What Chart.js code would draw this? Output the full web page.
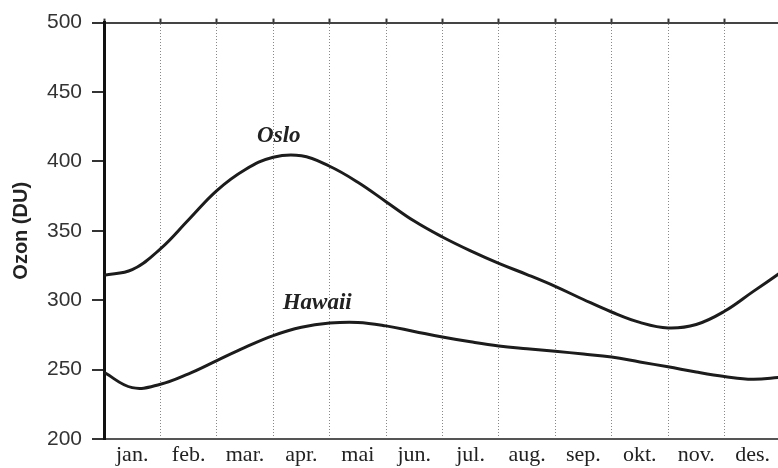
<!DOCTYPE html>
<html lang="no">
<head>
  <meta charset="UTF-8" />
  <title>Ozon - Oslo og Hawaii</title>
  <script src="https://cdn.jsdelivr.net/npm/chart.js"></script>
  <style>
    * { box-sizing: border-box; margin: 0; padding: 0; }
    body { background: white; }
    #ozonChart { display: block; }
  </style>
</head>
<body>

<canvas id="ozonChart" width="778" height="468"></canvas>

<script>
  const months = ['jan.', 'feb.', 'mar.', 'apr.', 'mai', 'jun.', 'jul.', 'aug.', 'sep.', 'okt.', 'nov.', 'des.'];
  const monthEdges = [0, 1, 2, 3, 4, 5, 6, 7, 8, 9, 10, 11, 12];
  const monthCenters = [0.5, 1.5, 2.5, 3.5, 4.5, 5.5, 6.5, 7.5, 8.5, 9.5, 10.5, 11.5];

  // measurements every half month, from start of January
  const samplePos = [0, 0.5, 1, 1.5, 2, 2.5, 3, 3.5, 4, 4.5, 5, 5.5, 6, 6.5, 7, 7.5, 8, 8.5, 9, 9.5, 10, 10.5, 11, 11.5, 12];
  const oslo = [318, 322, 337, 358, 379, 394, 403, 404, 396.5, 385, 371, 357, 345.5, 335.5, 326.5, 318.5, 310, 300.5, 291.5, 284, 280, 282.5, 292, 306, 320];
  const hawaii = [248, 237, 239.5, 247, 256.5, 266, 274.5, 280.5, 283.5, 284, 281.5, 277.5, 273.5, 270, 267, 265, 263.2, 261.2, 259, 255.5, 252, 248.2, 245, 243, 244.5];

  const yTicks = [200, 250, 300, 350, 400, 450, 500];

  const seriesLabels = [
    { text: 'Oslo', x: 3.1, y: 418 },
    { text: 'Hawaii', x: 3.78, y: 298 }
  ];

  function toPoints(values) {
    return values.map((v, i) => ({ x: samplePos[i], y: v }));
  }

  // writes the series names next to their curves
  const curveNames = {
    id: 'curveNames',
    afterDatasetsDraw(chart) {
      const ctx = chart.ctx;
      const xs = chart.scales.x, ys = chart.scales.y;
      ctx.save();
      ctx.font = 'bold italic 23px "Liberation Serif", "Times New Roman", serif';
      ctx.fillStyle = '#222';
      ctx.textAlign = 'center';
      ctx.textBaseline = 'middle';
      seriesLabels.forEach(l => {
        ctx.fillText(l.text, xs.getPixelForValue(l.x), ys.getPixelForValue(l.y));
      });
      ctx.restore();
    }
  };

  const xMax = 11.95;

  new Chart(document.getElementById('ozonChart'), {
    type: 'line',
    data: {
      datasets: [
        { label: 'Oslo', data: toPoints(oslo) },
        { label: 'Hawaii', data: toPoints(hawaii) }
      ]
    },
    options: {
      responsive: false,
      animation: false,
      layout: { padding: 0 },
      elements: {
        line: { borderColor: '#1c1c1c', borderWidth: 3, tension: 0.4 },
        point: { radius: 0 }
      },
      plugins: {
        legend: { display: false },
        tooltip: { enabled: false }
      },
      scales: {
        x: {
          type: 'linear',
          position: 'bottom',
          min: 0,
          max: xMax,
          afterBuildTicks: s => { s.ticks = monthCenters.map(v => ({ value: v })); },
          afterFit: s => { s.height = 29; },
          grid: { drawOnChartArea: false, drawTicks: false },
          border: { color: '#555', width: 2 },
          ticks: {
            autoSkip: false,
            maxRotation: 0,
            padding: 3,
            color: '#222',
            font: { family: '"Liberation Serif", "Times New Roman", serif', size: 22 },
            callback: (v, i) => months[i]
          }
        },
        xGrid: {
          type: 'linear',
          position: 'top',
          min: 0,
          max: xMax,
          afterBuildTicks: s => { s.ticks = monthEdges.filter(v => v <= xMax).map(v => ({ value: v })); },
          afterFit: s => { s.height = 19; },
          grid: {
            color: '#888',
            lineWidth: 1,
            tickLength: 4,
            tickColor: '#333',
            tickWidth: 2
          },
          border: { color: '#444', width: 2, dash: [1, 2] },
          ticks: { display: false }
        },
        y: {
          min: 200,
          max: 500,
          afterBuildTicks: s => { s.ticks = yTicks.map(v => ({ value: v })); },
          afterFit: s => { s.width = 104; },
          grid: { drawOnChartArea: false, tickLength: 12, color: '#333', lineWidth: 2 },
          border: { color: '#111', width: 3 },
          ticks: {
            padding: 10,
            color: '#333',
            font: { family: '"Liberation Sans", Arial, sans-serif', size: 21 }
          },
          title: {
            display: true,
            text: 'Ozon (DU)',
            color: '#222',
            padding: { top: 9, bottom: 0 },
            font: { family: '"Liberation Sans", Arial, sans-serif', size: 20, weight: 'bold' }
          }
        }
      }
    },
    plugins: [curveNames]
  });
</script>

</body>
</html>
